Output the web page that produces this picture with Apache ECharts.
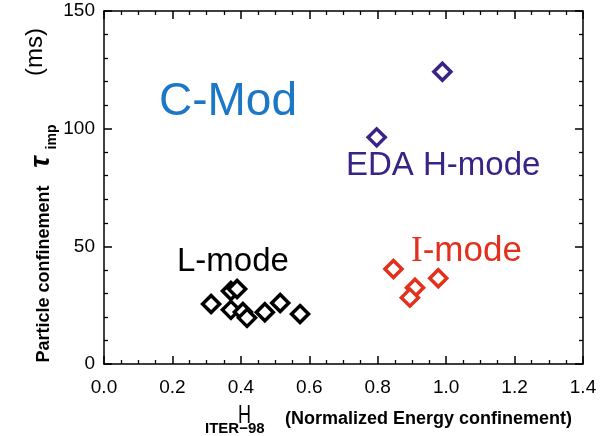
<!DOCTYPE html>
<html>
<head>
<meta charset="utf-8">
<script src="https://cdn.jsdelivr.net/npm/echarts@6/dist/echarts.min.js"></script>
<style>html,body{margin:0;padding:0;background:#fff;}#c{width:612px;height:436px;}</style>
</head>
<body>
<div id="c"></div>
<script>
// Data
const lModeH   = [0.313, 0.371, 0.389, 0.371, 0.406, 0.418, 0.470, 0.515, 0.573];
const lModeTau = [25.5, 31.0, 31.9, 23.0, 22.1, 19.6, 22.0, 25.9, 21.2];
const iModeH   = [0.846, 0.977, 0.909, 0.894];
const iModeTau = [40.4, 36.4, 32.4, 28.2];
const edaH     = [0.989, 0.797];
const edaTau   = [124.2, 96.3];
const xTicks = [0, 0.2, 0.4, 0.6, 0.8, 1.0, 1.2, 1.4];
const yTicks = [0, 50, 100, 150];

const pairs = (xs, ys) => xs.map((x, i) => [x, ys[i]]);
const FONT = 'Liberation Sans, Arial, sans-serif';
const BLACK = '#000';
const RED = '#e2301c';
const PURPLE = '#3a2386';
const BLUE = '#1c77c6';

function axisCommon(showLabel) {
  return {
    axisLine: { show: true, onZero: false, lineStyle: { color: BLACK, width: 1.5 } },
    axisTick: { show: true, inside: true, length: 8, lineStyle: { color: BLACK, width: 1.5 } },
    minorTick: { show: true, length: 4, lineStyle: { color: BLACK, width: 1.3 } },
    splitLine: { show: false },
    axisLabel: { show: showLabel, color: BLACK, fontFamily: FONT, fontSize: 19 }
  };
}

const chart = echarts.init(document.getElementById('c'), null, { renderer: 'canvas' });
const sym = (color) => ({
  type: 'scatter', symbol: 'diamond', symbolSize: 17,
  itemStyle: { color: '#fff', borderColor: color, borderWidth: 3.5, opacity: 1 },
  emphasis: { disabled: true }
});

chart.setOption({
  animation: false,
  backgroundColor: '#fff',
  grid: { left: 104, right: 29, top: 11, bottom: 72 },
  xAxis: [
    Object.assign(axisCommon(true), {
      type: 'value', min: xTicks[0], max: xTicks[xTicks.length - 1], interval: 0.2, position: 'bottom',
      minorTick: Object.assign(axisCommon(true).minorTick, { splitNumber: 4 }),
      axisLabel: Object.assign(axisCommon(true).axisLabel, { margin: 14, formatter: v => v.toFixed(1) })
    }),
    Object.assign(axisCommon(false), {
      type: 'value', min: xTicks[0], max: xTicks[xTicks.length - 1], interval: 0.2, position: 'top',
      minorTick: Object.assign(axisCommon(false).minorTick, { splitNumber: 4 })
    })
  ],
  yAxis: [
    Object.assign(axisCommon(true), {
      type: 'value', min: yTicks[0], max: yTicks[yTicks.length - 1], interval: 50, position: 'left',
      minorTick: Object.assign(axisCommon(true).minorTick, { splitNumber: 5 }),
      axisLabel: Object.assign(axisCommon(true).axisLabel, { margin: 9 })
    }),
    Object.assign(axisCommon(false), {
      type: 'value', min: yTicks[0], max: yTicks[yTicks.length - 1], interval: 50, position: 'right',
      minorTick: Object.assign(axisCommon(false).minorTick, { splitNumber: 5 })
    })
  ],
  series: [
    Object.assign(sym(BLACK), { name: 'L-mode', data: pairs(lModeH, lModeTau) }),
    Object.assign(sym(RED), { name: 'I-mode', data: pairs(iModeH, iModeTau) }),
    Object.assign(sym(PURPLE), { name: 'EDA H-mode', data: pairs(edaH, edaTau) })
  ],
  graphic: [
    // annotations
    { type: 'text', left: 159, top: 79, style: { text: 'C-Mod', fill: BLUE, font: '46px ' + FONT } },
    { type: 'text', left: 346, top: 149, style: { text: 'EDA H-mode', fill: PURPLE, font: '33px ' + FONT } },
    { type: 'text', left: 177, top: 245, style: { text: 'L-mode', fill: BLACK, font: '33px ' + FONT } },
    { type: 'text', left: 411, top: 234, style: {
        text: '{i|I}{m|-mode}', fill: RED,
        rich: { i: { fill: RED, font: '35px Liberation Serif, serif' }, m: { fill: RED, font: '35px ' + FONT } } } },
    // x-axis title
    { type: 'text', x: 186, y: 429, style: { text: 'H', fill: BLACK, font: '25px ' + FONT, textVerticalAlign: 'bottom' }, scaleX: 0.72, originX: 186 },
    { type: 'text', x: 205, y: 436, style: { text: 'ITER\u221298', fill: BLACK, font: 'bold 15px ' + FONT, textVerticalAlign: 'bottom' } },
    { type: 'text', x: 285, y: 428, style: { text: '(Normalized Energy confinement)', fill: BLACK, font: 'bold 18px ' + FONT, textVerticalAlign: 'bottom' } },
    // y-axis title (rotated)
    { type: 'text', x: 44, y: 274, rotation: Math.PI / 2,
      style: { text: 'Particle confinement', fill: BLACK, font: 'bold 18px ' + FONT, textAlign: 'center', textVerticalAlign: 'middle' } },
    { type: 'text', x: 41, y: 162, rotation: Math.PI / 2,
      style: { text: '\u03c4', fill: BLACK, font: 'italic bold 28px ' + FONT, textAlign: 'center', textVerticalAlign: 'middle' } },
    { type: 'text', x: 52, y: 137, rotation: Math.PI / 2,
      style: { text: 'imp', fill: BLACK, font: 'bold 14px ' + FONT, textAlign: 'center', textVerticalAlign: 'middle' } },
    { type: 'text', x: 35, y: 52, rotation: Math.PI / 2,
      style: { text: '(ms)', fill: BLACK, font: '24px ' + FONT, textAlign: 'center', textVerticalAlign: 'middle' } }
  ]
});
</script>
</body>
</html>
